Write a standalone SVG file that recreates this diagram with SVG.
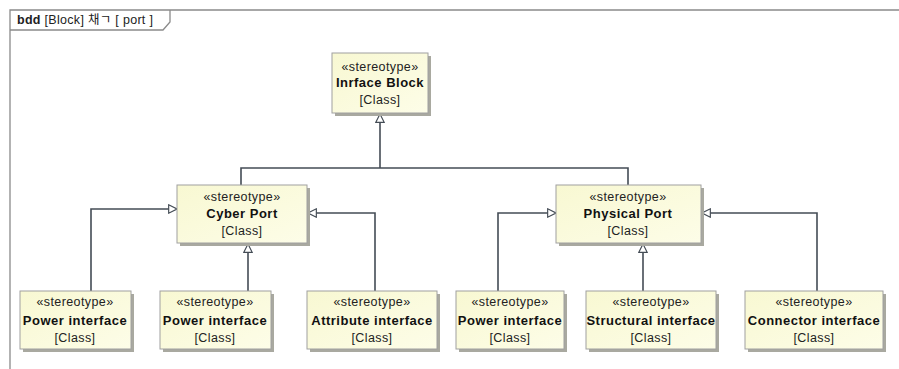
<svg xmlns="http://www.w3.org/2000/svg" width="899" height="369" viewBox="0 0 899 369">
  <style>
    .frame { fill: none; stroke: #8a8a8a; stroke-width: 1.3; }
    .box { fill: url(#boxFill); stroke: #a0a0a0; stroke-width: 1; }
    .shadow { fill: #a9a9a0; }
    .st { font-family: "Liberation Sans", Arial, sans-serif; font-size: 12.5px; letter-spacing: 0.4px; fill: #222; text-anchor: middle; }
    .nm { font-family: "Liberation Sans", Arial, sans-serif; font-size: 13px; letter-spacing: 0.5px; font-weight: bold; fill: #111; text-anchor: middle; }
    .wire { fill: none; stroke: #444c55; stroke-width: 1.6; }
    .hdr { font-family: "Liberation Sans", "Noto Sans CJK KR", Arial, sans-serif; font-size: 12.5px; letter-spacing: 0.3px; fill: #222; }
  </style>
  <defs>
    <linearGradient id="boxFill" x1="0" y1="0" x2="1" y2="1">
      <stop offset="0" stop-color="#f8f8d2"/>
      <stop offset="1" stop-color="#fdfde8"/>
    </linearGradient>
    <marker id="gen" viewBox="0 0 12 12" refX="11" refY="6" markerWidth="10" markerHeight="10" markerUnits="userSpaceOnUse" orient="auto">
      <path d="M1,1 L11,6 L1,11 Z" fill="#fff" stroke="#444c55" stroke-width="1.4"/>
    </marker>
  </defs>

  <rect width="899" height="369" fill="#fff"/>

  <!-- diagram frame with header tab -->
  <g id="frame">
    <path class="frame" d="M10,369 V10 H899"/>
    <path class="frame" d="M10,30 H163 L170,22 V10"/>
    <text class="hdr" x="17" y="24"><tspan font-weight="bold">bdd</tspan> [Block] 채ㄱ [ port ]</text>
  </g>

  <!-- generalization connectors -->
  <g id="connectors">
    <path class="wire" d="M241,185 V168 H628 V185"/>
    <path class="wire" d="M380,168 V114" marker-end="url(#gen)"/>
    <path class="wire" d="M91,291 V209 H177" marker-end="url(#gen)"/>
    <path class="wire" d="M248,291 V244" marker-end="url(#gen)"/>
    <path class="wire" d="M375,291 V213 H308" marker-end="url(#gen)"/>
    <path class="wire" d="M498,291 V213 H556" marker-end="url(#gen)"/>
    <path class="wire" d="M643,291 V244" marker-end="url(#gen)"/>
    <path class="wire" d="M817,291 V213 H702" marker-end="url(#gen)"/>
  </g>

  <g id="inrface-block">
    <rect class="shadow" x="335" y="56" width="96" height="60"/>
    <rect class="box" x="332" y="53" width="96" height="60"/>
    <text class="st" x="380" y="71">«stereotype»</text>
    <text class="nm" x="380" y="87">Inrface Block</text>
    <text class="st" x="380" y="104">[Class]</text>
  </g>

  <g id="cyber-port">
    <rect class="shadow" x="180" y="188" width="130" height="58"/>
    <rect class="box" x="177" y="185" width="130" height="58"/>
    <text class="st" x="242" y="201">«stereotype»</text>
    <text class="nm" x="242" y="218">Cyber Port</text>
    <text class="st" x="242" y="235">[Class]</text>
  </g>

  <g id="physical-port">
    <rect class="shadow" x="559" y="188" width="145" height="58"/>
    <rect class="box" x="556" y="185" width="145" height="58"/>
    <text class="st" x="628" y="201">«stereotype»</text>
    <text class="nm" x="628" y="218">Physical Port</text>
    <text class="st" x="628" y="235">[Class]</text>
  </g>

  <g id="power-interface-1">
    <rect class="shadow" x="23" y="294" width="111" height="58"/>
    <rect class="box" x="20" y="291" width="111" height="58"/>
    <text class="st" x="75" y="306">«stereotype»</text>
    <text class="nm" x="75" y="325">Power interface</text>
    <text class="st" x="75" y="342">[Class]</text>
  </g>

  <g id="power-interface-2">
    <rect class="shadow" x="163" y="294" width="111" height="58"/>
    <rect class="box" x="160" y="291" width="111" height="58"/>
    <text class="st" x="215" y="306">«stereotype»</text>
    <text class="nm" x="215" y="325">Power interface</text>
    <text class="st" x="215" y="342">[Class]</text>
  </g>

  <g id="attribute-interface">
    <rect class="shadow" x="310" y="294" width="130" height="58"/>
    <rect class="box" x="307" y="291" width="130" height="58"/>
    <text class="st" x="372" y="306">«stereotype»</text>
    <text class="nm" x="372" y="325">Attribute interface</text>
    <text class="st" x="372" y="342">[Class]</text>
  </g>

  <g id="power-interface-3">
    <rect class="shadow" x="459" y="294" width="108" height="58"/>
    <rect class="box" x="456" y="291" width="108" height="58"/>
    <text class="st" x="510" y="306">«stereotype»</text>
    <text class="nm" x="510" y="325">Power interface</text>
    <text class="st" x="510" y="342">[Class]</text>
  </g>

  <g id="structural-interface">
    <rect class="shadow" x="589" y="294" width="130" height="58"/>
    <rect class="box" x="586" y="291" width="130" height="58"/>
    <text class="st" x="651" y="306">«stereotype»</text>
    <text class="nm" x="651" y="325">Structural interface</text>
    <text class="st" x="651" y="342">[Class]</text>
  </g>

  <g id="connector-interface">
    <rect class="shadow" x="748" y="294" width="138" height="58"/>
    <rect class="box" x="745" y="291" width="138" height="58"/>
    <text class="st" x="814" y="306">«stereotype»</text>
    <text class="nm" x="814" y="325">Connector interface</text>
    <text class="st" x="814" y="342">[Class]</text>
  </g>
</svg>
